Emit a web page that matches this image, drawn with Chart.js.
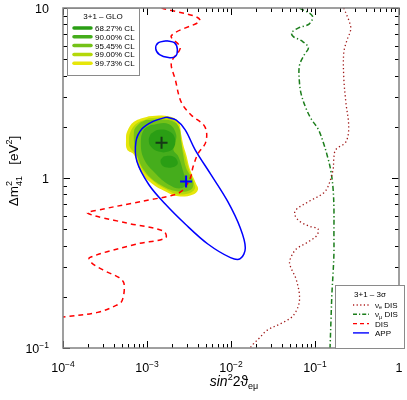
<!DOCTYPE html>
<html><head><meta charset="utf-8">
<script src="https://cdn.jsdelivr.net/npm/chart.js@4.4.1/dist/chart.umd.min.js"></script>
<style>html,body{margin:0;padding:0;background:#fff}#wrap{width:407px;height:400px}</style>
</head><body><div id="wrap"><canvas id="c"></canvas></div>
<script>
/* ---------- data: [sin^2 2theta, dm2] ---------- */
const bestGlo = [[1.49e-3, 1.61]];
const bestApp = [[2.92e-3, 0.954]];

const appBig = [[1.71e-3,2.28],[1.20e-3,2.16],[8.67e-4,1.94],[7.38e-4,1.63],[7.59e-4,1.25],[1.05e-3,0.916],
  [1.66e-3,0.700],[2.85e-3,0.536],[5.30e-3,0.409],[9.86e-3,0.340],[1.29e-2,0.335],[1.48e-2,0.388],
  [1.29e-2,0.508],[9.10e-3,0.730],[5.75e-3,1.05],[3.73e-3,1.47],[2.85e-3,1.92],[2.23e-3,2.19],[1.71e-3,2.28]];
const appSmall = [[1.71e-3,6.42],[1.37e-3,6.25],[1.27e-3,5.77],[1.41e-3,5.32],[1.80e-3,5.11],[2.17e-3,5.18],
  [2.30e-3,5.69],[2.12e-3,6.25],[1.71e-3,6.42]];

const dis = [[1.49e-3,10],[4.27e-3,8.51],[1.95e-3,6.87],[2.49e-3,5.85],[1.95e-3,4.78],[2.17e-3,3.80],
  [2.56e-3,2.79],[3.35e-3,2.35],[4.89e-3,2.00],[5.02e-3,1.63],[4.05e-3,1.39],[3.54e-3,1.167],[3.26e-3,0.993],
  [2.56e-3,0.834],[1.80e-3,0.780],[1.14e-3,0.749],[6.62e-4,0.710],[2.94e-4,0.655],[1.96e-4,0.621],
  [5.78e-4,0.543],[1.57e-3,0.488],[1.66e-3,0.444],[7.59e-4,0.409],[2.07e-4,0.340],[2.19e-4,0.317],
  [3.11e-4,0.285],[4.67e-4,0.259],[5.33e-4,0.239],[5.06e-4,0.190],[4.29e-4,0.178],[2.58e-4,0.162],[1e-4,0.152]];

const nueDis = [[0.220,10],[0.259,8.18],[0.266,7.44],[0.239,6.42],[0.220,5.46],[0.220,3.91],[0.233,2.79],
  [0.252,2.00],[0.233,1.63],[0.177,1.47],[0.168,1.33],[0.164,1.12],[0.143,0.892],[0.125,0.812],[0.0857,0.730],
  [0.0603,0.655],[0.0572,0.612],[0.0653,0.557],[0.0857,0.521],[0.109,0.501],[0.104,0.456],[0.0789,0.415],
  [0.0603,0.383],[0.0526,0.348],[0.0499,0.313],[0.0603,0.249],[0.0653,0.190],[0.0556,0.156],[0.0425,0.142],
  [0.0268,0.127],[0.0216,0.114],[0.0179,0.104],[0.0169,0.1]];

const numuDis = [[0.0653,10],[0.0929,8.98],[0.0857,8.07],[0.0637,7.64],[0.0526,7.15],[0.0556,6.77],[0.069,6.42],
  [0.0834,5.85],[0.0748,5.32],[0.0653,4.59],[0.0653,3.65],[0.069,3.07],[0.0789,2.54],[0.0904,2.22],[0.109,1.94],
  [0.125,1.63],[0.143,1.30],[0.155,1.09],[0.164,0.869],[0.168,0.664],[0.168,0.469],[0.168,0.358],[0.164,0.274],
  [0.159,0.209],[0.155,0.146],[0.151,0.1]];

const c9973 = [[1.05e-3,2.31],[1.80e-3,2.31],[2.36e-3,2.14],[2.56e-3,1.79],[2.70e-3,1.57],[2.93e-3,1.37],
  [3.26e-3,1.12],[3.83e-3,0.929],[4.05e-3,0.857],[3.54e-3,0.801],[2.36e-3,0.780],[1.66e-3,0.834],[1.14e-3,0.929],
  [8.45e-4,1.09],[6.99e-4,1.37],[5.79e-4,1.47],[5.63e-4,1.68],[5.79e-4,1.87],[6.99e-4,2.14],[1.05e-3,2.31]];
const c9900 = [[1.05e-3,2.25],[1.80e-3,2.25],[2.30e-3,2.08],[2.49e-3,1.77],[2.63e-3,1.53],[2.85e-3,1.34],
  [3.17e-3,1.11],[3.63e-3,0.929],[3.73e-3,0.869],[3.35e-3,0.823],[2.36e-3,0.801],[1.71e-3,0.857],[1.20e-3,0.954],
  [8.91e-4,1.11],[7.38e-4,1.37],[6.28e-4,1.51],[6.11e-4,1.68],[6.28e-4,1.84],[7.38e-4,2.08],[1.05e-3,2.25]];
const c9545 = [[9.67e-4,2.19],[1.80e-3,2.19],[2.36e-3,2.02],[2.56e-3,1.63],[2.70e-3,1.37],[2.93e-3,1.14],
  [3.54e-3,0.954],[3.35e-3,0.857],[2.36e-3,0.834],[1.57e-3,0.892],[9.93e-4,1.06],[7.58e-4,1.37],[6.99e-4,1.87],
  [8.00e-4,2.08],[9.67e-4,2.19]];
const c9000 = [[1.11e-3,2.05],[1.80e-3,2.08],[2.23e-3,1.79],[2.06e-3,1.47],[2.36e-3,1.34],[2.70e-3,1.09],
  [2.93e-3,0.929],[2.49e-3,0.869],[1.80e-3,0.917],[1.27e-3,1.06],[9.16e-4,1.30],[8.45e-4,1.63],[9.16e-4,1.92],
  [1.11e-3,2.05]];
const c6827a = [[1.11e-3,1.82],[1.37e-3,1.92],[1.80e-3,1.89],[2.12e-3,1.75],[2.12e-3,1.53],[1.80e-3,1.43],
  [1.37e-3,1.43],[1.11e-3,1.53],[1.05e-3,1.68],[1.11e-3,1.82]];
const c6827b = [[1.57e-3,1.34],[1.90e-3,1.35],[2.23e-3,1.30],[2.30e-3,1.20],[1.90e-3,1.15],[1.53e-3,1.18],
  [1.45e-3,1.27],[1.57e-3,1.34]];

const gloLabels = ['68.27% CL','90.00% CL','95.45% CL','99.00% CL','99.73% CL'];
const gloColors = ['#2a9e14','#45ad1c','#74c218','#b4d80a','#e6e60a'];

const xLabels = [[1e-4,'10','\u22124'],[1e-3,'10','\u22123'],[1e-2,'10','\u22122'],[1e-1,'10','\u22121'],[1,'1','']];
const yLabels = [[0.1,'10','\u22121'],[1,'1',''],[10,'10','']];

/* ---------- helpers ---------- */
const FONT = '"Liberation Sans", Arial, sans-serif';
const pts = a => a.map(([x,y]) => ({x,y}));
const fnt = p => `${p.i?'italic ':''}${p.s}px ${FONT}`;
function rich(ctx, parts, x, y, align){
  let w = 0;
  parts.forEach(p => { ctx.font = fnt(p); w += ctx.measureText(p.t).width; });
  let cx = align==='center' ? x-w/2 : align==='right' ? x-w : x;
  parts.forEach(p => { ctx.font = fnt(p); ctx.fillText(p.t, cx, y+(p.dy||0)); cx += ctx.measureText(p.t).width; });
}
const line = (o, dash, color, w) => ({data:pts(o), showLine:true, pointRadius:0, borderColor:color,
  borderWidth:w||1.5, borderDash:dash||[], tension:0.35, fill:false});
const area = (o, color) => ({data:pts(o), showLine:true, pointRadius:0, borderWidth:0, borderColor:color,
  backgroundColor:color, fill:'shape', tension:0.4});

/* ---------- frame, ticks, labels, legends ---------- */
const decor = {
  id:'decor',
  afterDatasetsDraw(chart){
    const {ctx, chartArea:a, scales:{x, y}} = chart;
    ctx.save();
    ctx.strokeStyle = '#000'; ctx.lineWidth = 1;
    const seg = (x1,y1,x2,y2) => { ctx.beginPath(); ctx.moveTo(x1,y1); ctx.lineTo(x2,y2); ctx.stroke(); };
    for (let d=-4; d<=0; d++) for (let m=1; m<=9; m++){
      const v = m*Math.pow(10,d); if (v > 1.0001) break;
      const px = Math.round(x.getPixelForValue(v))+0.5, L = m===1 ? 7 : 4;
      seg(px,a.bottom,px,a.bottom-L); seg(px,a.top,px,a.top+L);
    }
    for (let d=-1; d<=1; d++) for (let m=1; m<=9; m++){
      const v = m*Math.pow(10,d); if (v > 10.001) break;
      const py = Math.round(y.getPixelForValue(v))+0.5, L = m===1 ? 7 : 4;
      seg(a.left,py,a.left+L,py); seg(a.right,py,a.right-L,py);
    }
    ctx.strokeStyle = '#808080'; ctx.lineWidth = 1.5;
    ctx.strokeRect(a.left, a.top, a.right-a.left, a.bottom-a.top);

    /* tick labels */
    ctx.fillStyle = '#000'; ctx.textBaseline = 'alphabetic';
    xLabels.forEach(([v,b,e]) => {
      rich(ctx, [{t:b,s:12.5},{t:e,s:8.5,dy:-5.5}], x.getPixelForValue(v), 372, 'center');
    });
    yLabels.forEach(([v,b,e]) => {
      rich(ctx, [{t:b,s:12.5},{t:e,s:8.5,dy:-5.5}], 49, y.getPixelForValue(v)+5, 'right');
    });

    /* axis titles */
    rich(ctx, [{t:'sin',s:14,i:1},{t:'2',s:9,dy:-6},{t:'2\u03d1',s:14},{t:'e\u03bc',s:9,dy:3}], 234, 386, 'center');
    ctx.save();
    ctx.translate(18, 171); ctx.rotate(-Math.PI/2);
    ctx.font = fnt({s:13.5});
    const wD = ctx.measureText('\u0394m').width;
    const wB = ctx.measureText('[eV]').width;
    ctx.font = fnt({s:9});
    const wS = ctx.measureText('41').width;
    const w2 = ctx.measureText('2').width;
    let sx = -(wD + wS + 11 + wB + w2)/2;
    ctx.font = fnt({s:13.5}); ctx.fillText('\u0394m', sx, 0); sx += wD;
    ctx.font = fnt({s:9}); ctx.fillText('2', sx, -6.5); ctx.fillText('41', sx, 4); sx += wS + 11;
    rich(ctx, [{t:'[eV',s:13.5},{t:'2',s:9,dy:-6.5},{t:']',s:13.5}], sx, 0, 'left');
    ctx.restore();

    /* legend GLO */
    ctx.fillStyle = '#fff'; ctx.fillRect(67, 8, 72, 67);
    ctx.strokeStyle = '#8a8a8a'; ctx.lineWidth = 1; ctx.strokeRect(67.5, 8.5, 72, 67);
    ctx.fillStyle = '#000';
    rich(ctx, [{t:'3+1 \u2013 GLO',s:8}], 103, 19, 'center');
    gloLabels.forEach((t,i) => {
      const yy = 28 + i*8.8;
      ctx.strokeStyle = gloColors[i]; ctx.lineWidth = 3.5; ctx.lineCap = 'round';
      seg(74, yy, 91, yy);
      ctx.fillStyle = '#000'; rich(ctx, [{t,s:8}], 95, yy+2.9, 'left');
    });
    ctx.lineCap = 'butt';

    /* legend 3 sigma */
    ctx.fillStyle = '#fff'; ctx.fillRect(335, 285, 69, 63);
    ctx.strokeStyle = '#8a8a8a'; ctx.lineWidth = 1; ctx.strokeRect(335.5, 285.5, 69, 63);
    ctx.fillStyle = '#000';
    rich(ctx, [{t:'3+1 \u2013 3\u03c3',s:8}], 370, 297, 'center');
    const l2 = [
      {c:'#b01c1c', d:[1.2,2.4], p:[{t:'\u03bd',s:8},{t:'e',s:5.5,dy:1.5},{t:' DIS',s:8}]},
      {c:'#1b7d1b', d:[4,2,1.2,2], p:[{t:'\u03bd',s:8},{t:'\u03bc',s:5.5,dy:1.5},{t:' DIS',s:8}]},
      {c:'#ff0000', d:[4,3], p:[{t:'DIS',s:8}]},
      {c:'#0000ff', d:[], p:[{t:'APP',s:8}]}
    ];
    l2.forEach((e,i) => {
      const yy = 305 + i*9.3;
      ctx.strokeStyle = e.c; ctx.lineWidth = 1.4; ctx.setLineDash(e.d);
      seg(353, yy, 369, yy); ctx.setLineDash([]);
      ctx.fillStyle = '#000'; rich(ctx, e.p, 375, yy+2.9, 'left');
    });
    ctx.restore();
  }
};

new Chart(document.getElementById('c'), {
  type:'line',
  data:{datasets:[
    {data:pts(bestGlo), showLine:false, pointStyle:'cross', pointRadius:6, pointBorderWidth:2, borderColor:'#163a16'},
    {data:pts(bestApp), showLine:false, pointStyle:'cross', pointRadius:6, pointBorderWidth:2, borderColor:'#0000ff'},
    line(appBig, [], '#0000ff', 1.5),
    line(appSmall, [], '#0000ff', 1.5),
    line(dis, [5,4], '#ff0000', 1.5),
    line(nueDis, [1.3,2.6], '#a01818', 1.3),
    line(numuDis, [5,2.5,1.3,2.5], '#1b7d1b', 1.5),
    area(c6827a, gloColors[0]),
    area(c6827b, gloColors[0]),
    area(c9000, gloColors[1]),
    area(c9545, gloColors[2]),
    area(c9900, gloColors[3]),
    area(c9973, gloColors[4])
  ]},
  options:{
    responsive:true, maintainAspectRatio:false, animation:false,
    layout:{padding:{top:5, right:3, left:0, bottom:0}},
    plugins:{legend:{display:false}, tooltip:{enabled:false}},
    events:[],
    scales:{
      x:{type:'logarithmic', min:1e-4, max:1, ticks:{display:false}, grid:{display:false}, border:{display:false},
         afterFit:s => { s.height = 52; }},
      y:{type:'logarithmic', min:0.1, max:10, ticks:{display:false}, grid:{display:false}, border:{display:false},
         afterFit:s => { s.width = 63; }}
    }
  },
  plugins:[decor]
});
</script></body></html>
